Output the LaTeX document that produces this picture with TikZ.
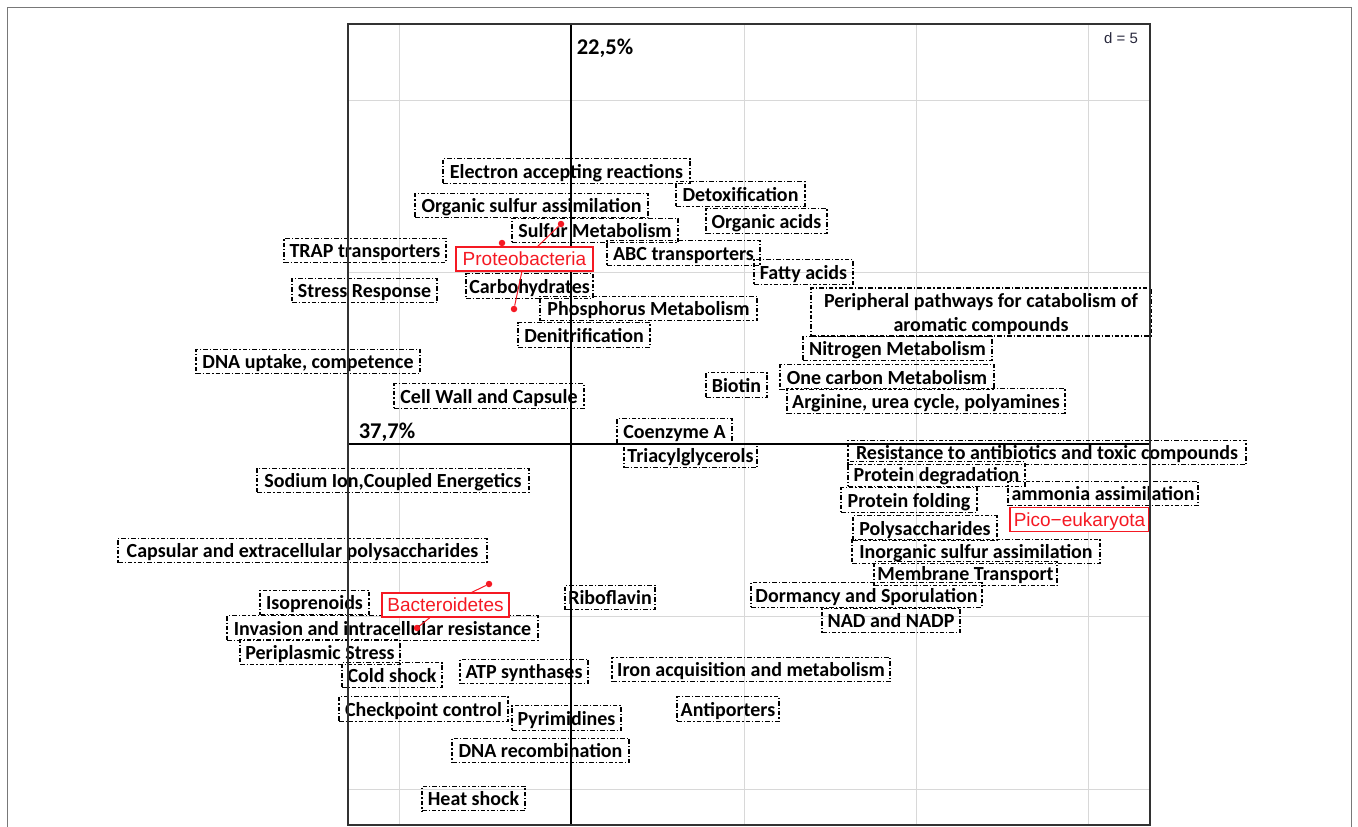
\documentclass[tikz,border=0pt]{standalone}
\usepackage{fontspec}
\setmainfont{Carlito}
\newfontfamily\redfont{Liberation Sans}
\definecolor{pred}{RGB}{245,25,35}
\definecolor{gridc}{RGB}{216,216,216}
\definecolor{framec}{RGB}{50,50,50}
\definecolor{outerc}{RGB}{120,120,120}
\definecolor{dcol}{RGB}{40,40,60}
\tikzset{
  lbl/.style={draw=black, line width=1.1pt, dash pattern=on 4.5pt off 2pt on 1.3pt off 2pt,
    font=\fontsize{20}{24}\selectfont\bfseries, inner xsep=1pt, inner ysep=0pt,
    minimum height=24.5pt, text height=15.5pt, text depth=1.5pt, anchor=center},
  rlbl/.style={draw=pred, line width=1.1pt, fill=white, text=pred,
    font=\redfont\fontsize{19}{22}\selectfont, inner xsep=1pt, inner ysep=0pt,
    minimum height=24pt, text height=15pt, text depth=1.5pt},
  pdot/.style={circle, fill=pred, inner sep=0pt, minimum size=6.5pt},
  pline/.style={draw=pred, line width=1pt},
  gridl/.style={draw=gridc, line width=1pt},
  axisl/.style={draw=black, line width=1.2pt},
  pct/.style={font=\fontsize{22.5}{24}\selectfont\bfseries, inner sep=0pt}
}
\begin{document}
\begin{tikzpicture}[x=1pt,y=-1pt]
\useasboundingbox (0,0) rectangle (1358,827);
% outer frame
\draw[outerc, line width=1.2pt] (7.5,830) -- (7.5,7.5) -- (1351.5,7.5) -- (1351.5,830);
% grid
\foreach \gx in {399,744,916,1088} \draw[gridl] (\gx,24) -- (\gx,825);
\foreach \gy in {100,272,616,789} \draw[gridl] (348,\gy) -- (1150,\gy);
% axes
\draw[axisl] (571,24) -- (571,825);
\draw[axisl] (348,444) -- (1150,444);
% texts
\node[pct] (ax2) at (605,48.5) {22,5\%};
\node[pct] (ax1) at (387,432) {37,7\%};
\node[font=\redfont\fontsize{15}{18}\selectfont, text=dcol, inner sep=0pt] (dd) at (1121,38) {d = 5};
% black labels
\node[lbl, minimum width=247pt] (ela) at (566.5,171) {Electron accepting reactions};
\node[lbl, minimum width=129pt] (det) at (740.5,194) {Detoxification};
\node[lbl, minimum width=233pt] (osa) at (531.5,205.5) {Organic sulfur assimilation};
\node[lbl, minimum width=121pt] (oac) at (766.5,221) {Organic acids};
\node[lbl, minimum width=166pt] (sme) at (595,230.5) {Sulfur Metabolism};
\node[lbl, minimum width=162pt] (trap) at (365,250.5) {TRAP transporters};
\node[lbl, minimum width=153pt] (abc) at (683.5,253) {ABC transporters};
\node[lbl, minimum width=99pt] (fat) at (803.5,272) {Fatty acids};
\node[lbl, minimum width=145pt] (str) at (364.5,290.5) {Stress Response};
\node[lbl, minimum width=127pt] (carb) at (529.5,286) {Carbohydrates};
\node[lbl, minimum width=217pt] (phos) at (648.5,308.5) {Phosphorus Metabolism};
\node[lbl, minimum width=340pt, minimum height=48pt, text height=40.5pt, text depth=1.5pt, align=center] (peri) at (981,312)
      {Peripheral pathways for catabolism of\\aromatic compounds};
\node[lbl, minimum width=132pt] (den) at (584,335) {Denitrification};
\node[lbl, minimum width=224pt] (dna) at (308,361.5) {DNA uptake, competence};
\node[lbl, minimum width=189pt] (nit) at (897.5,348.5) {Nitrogen Metabolism};
\node[lbl, minimum width=61pt] (bio) at (736.5,385) {Biotin};
\node[lbl, minimum width=214pt] (one) at (887,377) {One carbon Metabolism};
\node[lbl, minimum width=190pt] (cell) at (489,396) {Cell Wall and Capsule};
\node[lbl, minimum width=278pt] (arg) at (926,401) {Arginine, urea cycle, polyamines};
\node[lbl, minimum width=115pt] (coa) at (674.5,431) {Coenzyme A};
\node[lbl, minimum width=133pt] (tri) at (690.5,455.5) {Triacylglycerols};
\node[lbl, minimum width=398pt] (res) at (1047,452.5) {Resistance to antibiotics and toxic compounds};
\node[lbl, minimum width=177pt] (pdeg) at (936.5,474) {Protein degradation};
\node[lbl, minimum width=272pt] (sod) at (393,480.5) {Sodium Ion,Coupled Energetics};
\node[lbl, minimum width=136pt] (pfold) at (909,500) {Protein folding};
\node[lbl, minimum width=190pt] (amm) at (1103,493.5) {ammonia assimilation};
\node[lbl, minimum width=144pt] (poly) at (925,528) {Polysaccharides};
\node[lbl, minimum width=369pt] (caps) at (302.5,550.5) {Capsular and extracellular polysaccharides};
\node[lbl, minimum width=248pt] (inorg) at (976,551.5) {Inorganic sulfur assimilation};
\node[lbl, minimum width=183pt] (memb) at (965.5,573.5) {Membrane Transport};
\node[lbl, minimum width=231pt] (dorm) at (866.5,595) {Dormancy and Sporulation};
\node[lbl, minimum width=109pt] (iso) at (314.5,602.5) {Isoprenoids};
\node[lbl, minimum width=90pt] (ribo) at (610,597.5) {Riboflavin};
\node[lbl, minimum width=138pt] (nad) at (891,620.5) {NAD and NADP};
\node[lbl, minimum width=311pt] (inv) at (382.5,628) {Invasion and intracellular resistance};
\node[lbl, minimum width=160pt] (peri2) at (320,652) {Periplasmic Stress};
\node[lbl, minimum width=100pt] (cold) at (392,675) {Cold shock};
\node[lbl, minimum width=128pt] (atp) at (524,671.5) {ATP synthases};
\node[lbl, minimum width=278pt] (iron) at (751,669.5) {Iron acquisition and metabolism};
\node[lbl, minimum width=169pt] (check) at (423.5,709) {Checkpoint control};
\node[lbl, minimum width=109pt] (pyr) at (566.5,718) {Pyrimidines};
\node[lbl, minimum width=102pt] (anti) at (728,709) {Antiporters};
\node[lbl, minimum width=177pt] (dnar) at (540.5,750.5) {DNA recombination};
\node[lbl, minimum width=103pt] (heat) at (473.5,798.5) {Heat shock};
% red group labels
\node[rlbl, minimum width=137pt] (prot) at (524.5,259) {Proteobacteria};
\node[rlbl, minimum width=127pt] (bact) at (445.5,605) {Bacteroidetes};
\node[rlbl, minimum width=139pt] (pico) at (1079.5,519.5) {Pico−eukaryota};
% red points
\node[pdot] (pp1) at (561,224) {};
\node[pdot] (pp2) at (502,243) {};
\node[pdot] (pp3) at (514,309) {};
\node[pdot] (bp1) at (489,584) {};
\node[pdot] (bp2) at (417,628) {};
\draw[pline] (prot) -- (pp1);
\draw[pline] (prot) -- (pp3);
\draw[pline] (bact) -- (bp1);
\draw[pline] (bact) -- (bp2);
% plot frame
\draw[framec, line width=2pt] (348,24) rectangle (1150,825);
\end{tikzpicture}
\end{document}
